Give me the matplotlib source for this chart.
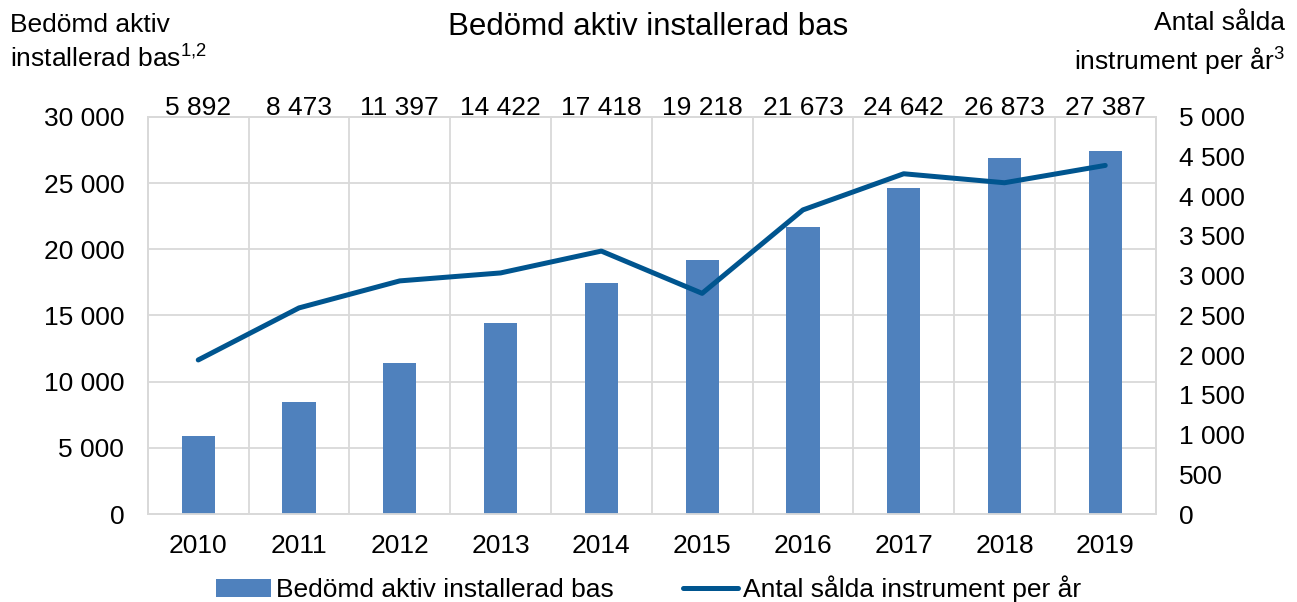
import numpy as np
import matplotlib.pyplot as plt

plt.rcParams['font.family'] = ['Liberation Sans', 'DejaVu Sans']
plt.rcParams['mathtext.fontset'] = 'custom'
plt.rcParams['mathtext.rm'] = 'Liberation Sans'

years = ['2010', '2011', '2012', '2013', '2014', '2015', '2016', '2017', '2018', '2019']
installed_base = [5892, 8473, 11397, 14422, 17418, 19218, 21673, 24642, 26873, 27387]
sold_per_year = [1940, 2595, 2935, 3035, 3310, 2778, 3828, 4283, 4170, 4388]

left_ticks = [0, 5000, 10000, 15000, 20000, 25000, 30000]
right_ticks = [0, 500, 1000, 1500, 2000, 2500, 3000, 3500, 4000, 4500, 5000]


def fmt(v):
    return f'{v:,}'.replace(',', ' ')


bar_color = '#4F81BD'
line_color = '#00558F'
grid_color = '#D9D9D9'
fs = 19

fig = plt.figure(figsize=(12.97, 6.02), dpi=100)
ax = fig.add_axes([0.114, 0.146, 0.777, 0.660])
ax2 = ax.twinx()

x = np.arange(len(years))
bars = ax.bar(x, installed_base, width=0.33, color=bar_color, zorder=3,
              label='Bedömd aktiv installerad bas')
line, = ax2.plot(x, sold_per_year, color=line_color, lw=3.6, zorder=4,
                 solid_capstyle='round', label='Antal sålda instrument per år')

ax.set_xlim(-0.5, len(years) - 0.5)
ax.set_ylim(0, 30000)
ax2.set_ylim(0, 5000)
ax.set_yticks(left_ticks)
ax.set_yticklabels([fmt(v) for v in left_ticks])
ax2.set_yticks(right_ticks)
ax2.set_yticklabels([fmt(v) for v in right_ticks])
ax.set_xticks(x)
ax.set_xticklabels(years)

ax.set_xticks(np.arange(-0.5, len(years), 1.0), minor=True)
ax.grid(True, which='minor', axis='x', color=grid_color, lw=1.3, zorder=0)
ax.grid(True, which='major', axis='y', color=grid_color, lw=1.3, zorder=0)

for a in (ax, ax2):
    a.tick_params(which='both', length=0, labelsize=fs)
    for s in a.spines.values():
        s.set_color(grid_color)
        s.set_linewidth(1.3)
ax.tick_params(axis='y', pad=17)
ax2.tick_params(axis='y', pad=17)
ax.tick_params(axis='x', pad=14)

# data labels above the plot (on the top axes so the border stays behind them)
for xi, v in zip(x, installed_base):
    ax2.annotate(fmt(v), (xi, 5000), xytext=(0, 6), textcoords='offset points',
                 ha='center', va='center', fontsize=fs, zorder=6,
                 annotation_clip=False)

fig.text(0.5, 0.955, 'Bedömd aktiv installerad bas', ha='center', va='center', fontsize=22.5)
fig.text(0.008, 0.93, 'Bedömd aktiv\ninstallerad bas$^{1{,}2}$', ha='left', va='center',
         fontsize=fs, linespacing=1.3)
fig.text(0.991, 0.927, 'Antal sålda\ninstrument per år$^{3}$', ha='right', va='center',
         fontsize=fs, linespacing=1.35)

fig.legend(handles=[bars, line], loc='center', bbox_to_anchor=(0.5, 0.022), ncol=2,
           frameon=False, fontsize=fs, handlelength=2.1, handletextpad=0.2,
           columnspacing=2.6)

fig.savefig('out.png', dpi=100)
